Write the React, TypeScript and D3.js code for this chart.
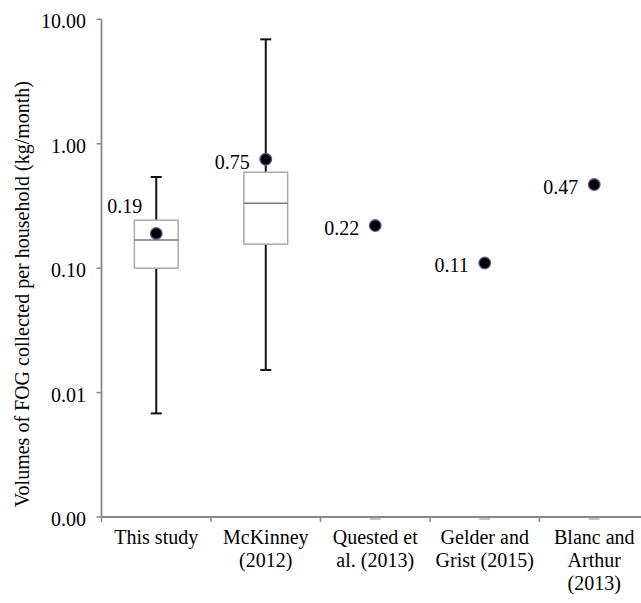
import React from "react";
import * as d3 from "d3";

const categories: string[][] = [
  ["This study"],
  ["McKinney", "(2012)"],
  ["Quested et", "al. (2013)"],
  ["Gelder and", "Grist (2015)"],
  ["Blanc and", "Arthur", "(2013)"],
];
// box stats: [whiskerLow, q1, median, q3, whiskerHigh] (null = none)
const boxLow: (number | null)[] = [0.0068, 0.0152, null, null, null];
const boxQ1: (number | null)[] = [0.1, 0.156, null, null, null];
const boxMedian: (number | null)[] = [0.168, 0.333, null, null, null];
const boxQ3: (number | null)[] = [0.243, 0.59, null, null, null];
const boxHigh: (number | null)[] = [0.54, 6.9, null, null, null];
const pointValues: number[] = [0.19, 0.75, 0.22, 0.11, 0.47];
const pointLabels: string[] = ["0.19", "0.75", "0.22", "0.11", "0.47"];
const yTicks: number[] = [0.001, 0.01, 0.1, 1, 10];
const yTitle = "Volumes of FOG collected per household (kg/month)";

const W = 641;
const H = 603;
const left = 101.5;
const top = 19.3;
const bottom = 517;
const band = 109.5;
const FONT = "'Liberation Serif', 'Times New Roman', serif";

export default function App() {
  const keys = categories.map((c) => c.join(" "));
  const x = d3
    .scaleBand<string>()
    .domain(keys)
    .range([left, left + band * keys.length])
    .paddingInner(0)
    .paddingOuter(0);
  const y = d3.scaleLog().domain([0.001, 10]).range([bottom, top]);
  const fmt = d3.format(".2f");
  const bw = x.bandwidth();
  const boxW = bw * 0.4;
  const capW = 11;
  const axisColor = "#888888";

  return (
    <svg
      width={W}
      height={H}
      style={{ position: "absolute", left: 0, top: 0, background: "#fff", fontFamily: FONT }}
    >
      <rect x={0} y={0} width={W} height={H} fill="#fff" />
      {/* y axis */}
      <line x1={left} x2={left} y1={top} y2={bottom} stroke={axisColor} strokeWidth={1.8} />
      {yTicks.map((t) => (
        <g key={t}>
          <line x1={left - 5} x2={left} y1={y(t)} y2={y(t)} stroke={axisColor} strokeWidth={1.5} />
          <text x={left - 15.5} y={y(t) + 9} textAnchor="end" fontSize={20} fill="#000" style={{ fontFamily: FONT }}>
            {fmt(t)}
          </text>
        </g>
      ))}
      {/* x axis */}
      <line x1={left} x2={left + band * keys.length} y1={bottom} y2={bottom} stroke={axisColor} strokeWidth={1.8} />
      {keys.map((k) => (
        <line key={"t" + k} x1={x(k)!} x2={x(k)!} y1={bottom} y2={bottom + 5} stroke={axisColor} strokeWidth={1.5} />
      ))}
      {categories.map((lines, i) => (
        <text
          key={"c" + i}
          x={x(keys[i])! + bw / 2}
          y={544}
          textAnchor="middle"
          fontSize={20}
          fill="#000"
          style={{ fontFamily: FONT }}
        >
          {lines.map((l, j) => (
            <tspan key={j} x={x(keys[i])! + bw / 2} y={544 + j * 23}>
              {l}
            </tspan>
          ))}
        </text>
      ))}
      {/* y title */}
      <text
        transform={`translate(29, ${(top + bottom) / 2 + 26}) rotate(-90)`}
        textAnchor="middle"
        fontSize={20}
        fill="#000"
        style={{ fontFamily: FONT }}
      >
        {yTitle}
      </text>
      {/* boxes */}
      {keys.map((k, i) => {
        const cx = x(k)! + bw / 2;
        if (boxQ1[i] == null) {
          return (
            <line
              key={"b" + i}
              x1={cx - 5.5}
              x2={cx + 5.5}
              y1={y(0.001) + 2}
              y2={y(0.001) + 2}
              stroke="#b0b0b0"
              strokeWidth={1.5}
            />
          );
        }
        const lo = y(boxLow[i]!);
        const q1 = y(boxQ1[i]!);
        const md = y(boxMedian[i]!);
        const q3 = y(boxQ3[i]!);
        const hi = y(boxHigh[i]!);
        return (
          <g key={"b" + i}>
            <line x1={cx} x2={cx} y1={hi} y2={q3} stroke="#111" strokeWidth={2} />
            <line x1={cx} x2={cx} y1={q1} y2={lo} stroke="#111" strokeWidth={2} />
            <line x1={cx - capW / 2} x2={cx + capW / 2} y1={hi} y2={hi} stroke="#111" strokeWidth={2} />
            <line x1={cx - capW / 2} x2={cx + capW / 2} y1={lo} y2={lo} stroke="#111" strokeWidth={2} />
            <rect x={cx - boxW / 2} y={q3} width={boxW} height={q1 - q3} fill="#fff" stroke="#aaaaaa" strokeWidth={1.5} />
            <line x1={cx - boxW / 2} x2={cx + boxW / 2} y1={md} y2={md} stroke="#7a7a7a" strokeWidth={1.5} />
          </g>
        );
      })}
      {/* points */}
      {keys.map((k, i) => {
        const cx = x(k)! + bw / 2;
        const cy = y(pointValues[i]);
        const above = i === 0;
        return (
          <g key={"p" + i}>
            <circle cx={cx} cy={cy} r={5.8} fill="#000" stroke="#6a5296" strokeWidth={1.3} />
            <text
              x={above ? cx - 14 : cx - 16}
              y={above ? cy - 20 : cy + 9.5}
              textAnchor="end"
              fontSize={20}
              fill="#000"
              style={{ fontFamily: FONT }}
            >
              {pointLabels[i]}
            </text>
          </g>
        );
      })}
    </svg>
  );
}
